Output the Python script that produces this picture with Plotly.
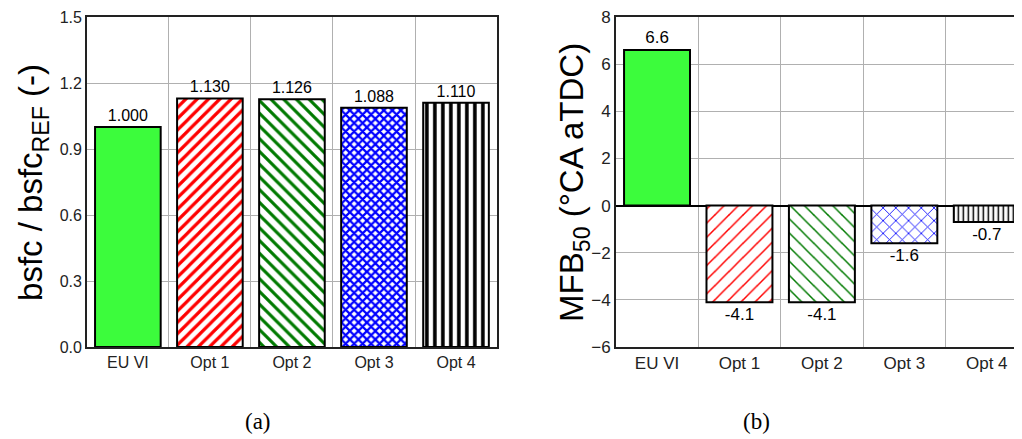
import plotly.graph_objects as go

categories = ["EU VI", "Opt 1", "Opt 2", "Opt 3", "Opt 4"]
bsfc_ratio = [1.000, 1.130, 1.126, 1.088, 1.110]
mfb50 = [6.6, -4.1, -4.1, -1.6, -0.7]
bsfc_ticks = [0.0, 0.3, 0.6, 0.9, 1.2, 1.5]
mfb_ticks = [-6, -4, -2, 0, 2, 4, 6, 8]

W, H = 1022, 439
MT, MB = 8, 100
left_dom = [79 / W, 490 / W]
right_dom = [609 / W, 1.0]

fills = ["#3cfc3c", "white", "white", "white", "white"]
shapes_l = ["", "/", "\\", "x", "|"]
fg = ["#3cfc3c", "#ff0000", "#007a00", "#0000ff", "#000000"]

fig = go.Figure()


def add_bars(vals, xaxis, yaxis, fmt, pats, fsize):
    for i, c in enumerate(categories):
        pat = None
        if shapes_l[i]:
            size, sol = pats[i]
            pat = dict(shape=shapes_l[i], fgcolor=fg[i], bgcolor="white",
                       size=size, solidity=sol, fillmode="replace")
        fig.add_trace(go.Bar(
            x=[c], y=[vals[i]], xaxis=xaxis, yaxis=yaxis,
            width=0.8, marker=dict(color=fills[i], pattern=pat,
                                   line=dict(color="black", width=2)),
            text=[format(vals[i], fmt)], textposition="outside",
            textfont=dict(family="Arial, Liberation Sans", size=fsize, color="black"),
            cliponaxis=False, showlegend=False, hoverinfo="skip",
        ))


left_pats = [None, (8, 0.4), (9, 0.35), (6, 0.6), (8, 0.45)]
right_pats = [None, (10, 0.15), (10, 0.15), (9, 0.18), (5, 0.3)]
add_bars(bsfc_ratio, "x", "y", ".3f", left_pats, 16)
add_bars(mfb50, "x2", "y2", ".1f", right_pats, 17)

tickfont_l = dict(family="Arial, Liberation Sans", size=16, color="#222")
tickfont_r = dict(family="Arial, Liberation Sans", size=17, color="#222")
grid = "#b0b0b0"
frame = "#222"

fig.update_layout(
    width=W, height=H,
    margin=dict(l=0, r=0, t=MT, b=MB),
    paper_bgcolor="white", plot_bgcolor="white",
    xaxis=dict(domain=left_dom, type="category", categoryorder="array",
               categoryarray=categories, tickson="boundaries",
               showgrid=True, gridcolor=grid, gridwidth=1,
               showline=True, linecolor=frame, linewidth=1.5, mirror=True,
               ticks="", tickfont=tickfont_l, anchor="y"),
    yaxis=dict(domain=[0, 1], range=[0, 1.5], tickvals=bsfc_ticks,
               tickformat=".1f", showgrid=True, gridcolor=grid, gridwidth=1,
               showline=True, linecolor=frame, linewidth=1.5, mirror=True,
               ticks="", tickfont=tickfont_l, zeroline=False, anchor="x",
               ticklabeloverflow="allow"),
    xaxis2=dict(domain=right_dom, type="category", categoryorder="array",
                categoryarray=categories, tickson="boundaries",
                showgrid=True, gridcolor=grid, gridwidth=1,
                showline=True, linecolor=frame, linewidth=1.5, mirror=True,
                ticks="", tickfont=tickfont_r, anchor="y2"),
    yaxis2=dict(domain=[0, 1], range=[-6, 8], tickvals=mfb_ticks,
                showgrid=True, gridcolor=grid, gridwidth=1,
                showline=True, linecolor=frame, linewidth=1.5, mirror=True,
                zeroline=True, zerolinecolor="black", zerolinewidth=1.5,
                ticks="", tickfont=tickfont_r, anchor="x2",
                ticklabeloverflow="allow"),
)

title_font = dict(family="Arial, Liberation Sans", size=33, color="black")
fig.add_annotation(text="bsfc / bsfc<sub>REF</sub> (-)", textangle=-90,
                   xref="paper", yref="paper", x=25 / W, y=0.5,
                   xanchor="center", yanchor="middle", showarrow=False, font=title_font)
fig.add_annotation(text="MFB<sub>50</sub> (°CA aTDC)", textangle=-90,
                   xref="paper", yref="paper", x=567 / W, y=0.5,
                   xanchor="center", yanchor="middle", showarrow=False, font=title_font)

cap_font = dict(family="Times New Roman, Liberation Serif", size=23, color="black")
plot_h = H - MT - MB
cap_y = (H - MB - 414) / plot_h
fig.add_annotation(text="(a)", xref="paper", yref="paper", x=235 / W, y=cap_y,
                   yanchor="middle", showarrow=False, font=cap_font)
fig.add_annotation(text="(b)", xref="paper", yref="paper", x=765 / W, y=cap_y,
                   yanchor="middle", showarrow=False, font=cap_font)

fig.write_html("out.html")
